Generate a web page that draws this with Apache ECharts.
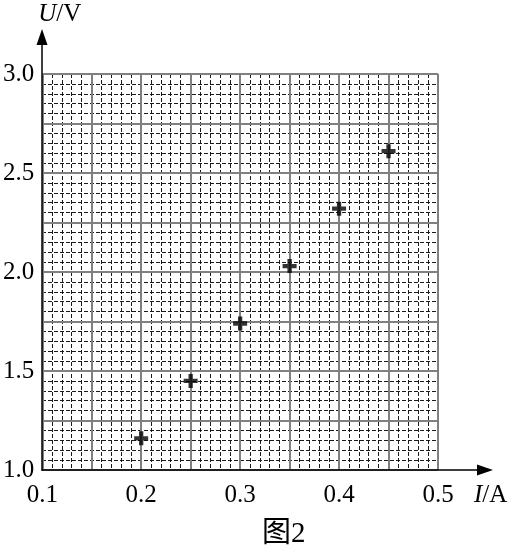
<!DOCTYPE html>
<html>
<head>
<meta charset="utf-8">
<script src="https://cdn.jsdelivr.net/npm/echarts@6/dist/echarts.min.js"></script>
<style>
html,body{margin:0;padding:0;background:#fff;}
#c{width:512px;height:558px;}
</style>
</head>
<body>
<div id="c"></div>
<script>
const currentA = [0.20, 0.25, 0.30, 0.35, 0.40, 0.45];
const voltageV = [1.16, 1.45, 1.74, 2.03, 2.32, 2.61];
const xTickLabels = ['0.1', '0.2', '0.3', '0.4', '0.5'];
const yTickLabels = ['1.0', '1.5', '2.0', '2.5', '3.0'];
const xRange = [0.1, 0.5];
const yRange = [1.0, 3.0];
const figureCaption = '图2';
const xName = 'I';
const xUnit = 'A';
const yName = 'U';
const yUnit = 'V';

const FONT = '"Liberation Serif", "Times New Roman", serif';
const FS = 25;

function labelFrom(list) {
  return function (v) {
    const s = v.toFixed(1);
    return (Math.abs(v - parseFloat(s)) < 1e-6 && list.indexOf(s) >= 0) ? s : '';
  };
}

const plotRect = { left: 42, right: 74, top: 74, bottom: 88 };
const axisRect = { left: 42, right: 27, top: 37, bottom: 88 };

const chart = echarts.init(document.getElementById('c'), null, { renderer: 'canvas' });

const hidden = { axisLine: { show: false }, axisTick: { show: false }, axisLabel: { show: false } };

chart.setOption({
  animation: false,
  backgroundColor: '#fff',
  title: {
    text: figureCaption,
    left: 262, top: 520, padding: 0,
    textStyle: { fontFamily: FONT + ', "Noto Sans CJK SC"', fontSize: 29, fontWeight: 'normal', color: '#000' }
  },
  grid: [
    Object.assign({ containLabel: false }, plotRect),
    Object.assign({ containLabel: false }, plotRect),
    Object.assign({ containLabel: false }, axisRect)
  ],
  xAxis: [
    Object.assign({
      type: 'value', gridIndex: 0, min: xRange[0], max: xRange[1], interval: 0.01, z: 0,
      splitLine: { show: true, lineStyle: { color: '#1a1a1a', width: 1, type: [4, 2] } }
    }, hidden),
    {
      type: 'value', gridIndex: 1, min: xRange[0], max: xRange[1], interval: 0.05, z: 1,
      axisLine: { show: false }, axisTick: { show: false },
      axisLabel: { show: true, margin: 13, formatter: labelFrom(xTickLabels), fontFamily: FONT, fontSize: FS, color: '#000' },
      splitLine: { show: true, lineStyle: { color: '#808080', width: 2 } },
      name: '{i|' + xName + '}/' + xUnit,
      nameLocation: 'end', nameGap: 36,
      nameTextStyle: {
        fontFamily: FONT, fontSize: FS, color: '#000', align: 'left', verticalAlign: 'top', padding: [13, 0, 0, 0],
        rich: { i: { fontFamily: FONT, fontSize: FS, fontStyle: 'italic', color: '#000' } }
      }
    },
    Object.assign({
      type: 'value', gridIndex: 2, min: 0, max: 1, z: 2,
      splitLine: { show: false }
    }, hidden, {
      axisLine: { show: true, symbol: ['none', 'triangle'], symbolSize: [11, 16], lineStyle: { color: '#000', width: 1.5 } }
    })
  ],
  yAxis: [
    Object.assign({
      type: 'value', gridIndex: 0, min: yRange[0], max: yRange[1], interval: 0.05, z: 0,
      splitLine: { show: true, lineStyle: { color: '#1a1a1a', width: 1, type: [4, 2] } }
    }, hidden),
    {
      type: 'value', gridIndex: 1, min: yRange[0], max: yRange[1], interval: 0.25, z: 1,
      axisLine: { show: false }, axisTick: { show: false },
      axisLabel: { show: true, margin: 8, formatter: labelFrom(yTickLabels), fontFamily: FONT, fontSize: FS, color: '#000' },
      splitLine: { show: true, lineStyle: { color: '#808080', width: 2 } },
      name: '{i|' + yName + '}/' + yUnit,
      nameLocation: 'end', nameGap: 47,
      nameTextStyle: {
        fontFamily: FONT, fontSize: FS, color: '#000', align: 'left', verticalAlign: 'bottom', padding: [0, 0, 0, -4],
        rich: { i: { fontFamily: FONT, fontSize: FS, fontStyle: 'italic', color: '#000' } }
      }
    },
    Object.assign({
      type: 'value', gridIndex: 2, min: 0, max: 1, z: 2,
      splitLine: { show: false }
    }, hidden, {
      axisLine: { show: true, symbol: ['none', 'triangle'], symbolSize: [11, 16], lineStyle: { color: '#000', width: 1.5 } }
    })
  ],
  series: [{
    type: 'scatter',
    xAxisIndex: 1, yAxisIndex: 1,
    z: 10,
    symbol: 'path://M4.5,0H8.5V4.5H13V8.5H8.5V13H4.5V8.5H0V4.5H4.5Z',
    symbolSize: 14,
    itemStyle: { color: '#000' },
    data: currentA.map((x, i) => [x, voltageV[i]])
  }]
});
</script>
</body>
</html>
